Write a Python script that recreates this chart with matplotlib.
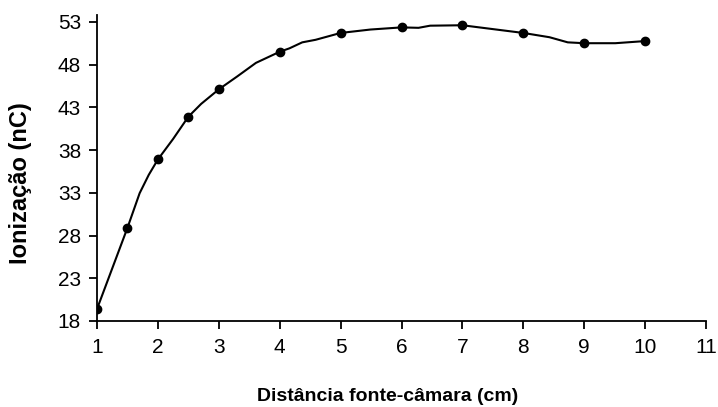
import matplotlib
matplotlib.use("Agg")
import matplotlib.pyplot as plt

# Measured points (markers)
dist = [1, 1.5, 2, 2.5, 3, 4, 5, 6, 7, 8, 9, 10]
ioniz = [19.4, 28.9, 36.9, 41.9, 45.1, 49.5, 51.7, 52.35, 52.6, 51.7, 50.5, 50.75]

# Smoothed trend line
curve_x = [1, 1.5, 1.7, 1.85, 2, 2.25, 2.5, 2.71, 3, 3.3, 3.61, 4, 4.16, 4.37, 4.59, 5,
           5.49, 6, 6.28, 6.47, 7, 8, 8.43, 8.73, 9, 9.51, 10]
curve_y = [19.4, 28.9, 32.95, 35.1, 36.9, 39.3, 41.9, 43.4, 45.1, 46.6, 48.2, 49.5, 49.9, 50.6, 50.9, 51.7,
           52.1, 52.35, 52.3, 52.55, 52.6, 51.7, 51.2, 50.6, 50.5, 50.5, 50.75]

xticks = [1, 2, 3, 4, 5, 6, 7, 8, 9, 10, 11]
yticks = [18, 23, 28, 33, 38, 43, 48, 53]

plt.rcParams['font.family'] = ['Liberation Sans', 'DejaVu Sans']

fig = plt.figure(figsize=(7.18, 4.07), dpi=100)
L, R, B, T = 97 / 718, 706 / 718, (407 - 321) / 407, (407 - 15) / 407
ax = fig.add_axes([L, B, R - L, T - B])

ax.plot(curve_x, curve_y, color='black', linewidth=1.5, solid_joinstyle='round')
ax.plot(dist, ioniz, linestyle='none', marker='o', markersize=6, color='black')

ax.set_xlim(1, 11)
ax.set_ylim(18, 53.8)
ax.set_xticks(xticks)
ax.set_yticks(yticks)
ax.set_xticklabels([str(v) for v in xticks])
ax.set_yticklabels([str(v) for v in yticks])

for s in ['top', 'right']:
    ax.spines[s].set_visible(False)
for s in ['left', 'bottom']:
    ax.spines[s].set_linewidth(1.3)
    ax.spines[s].set_color('black')

ax.tick_params(axis='both', direction='out', length=5.5, width=1.3, labelsize=15, colors='black')
ax.tick_params(axis='x', pad=7)
ax.tick_params(axis='y', pad=6)

ax.set_xlabel('Distância fonte-câmara (cm)', fontsize=14, fontweight='bold')
ax.set_ylabel('Ionização (nC)', fontsize=17, fontweight='bold')
ax.xaxis.set_label_coords(0.477, -0.219)
ax.yaxis.set_label_coords(-0.106, 0.45)

for sp in ax.spines.values():
    sp.set_clip_on(False)

fig.savefig('out.png', dpi=100)
